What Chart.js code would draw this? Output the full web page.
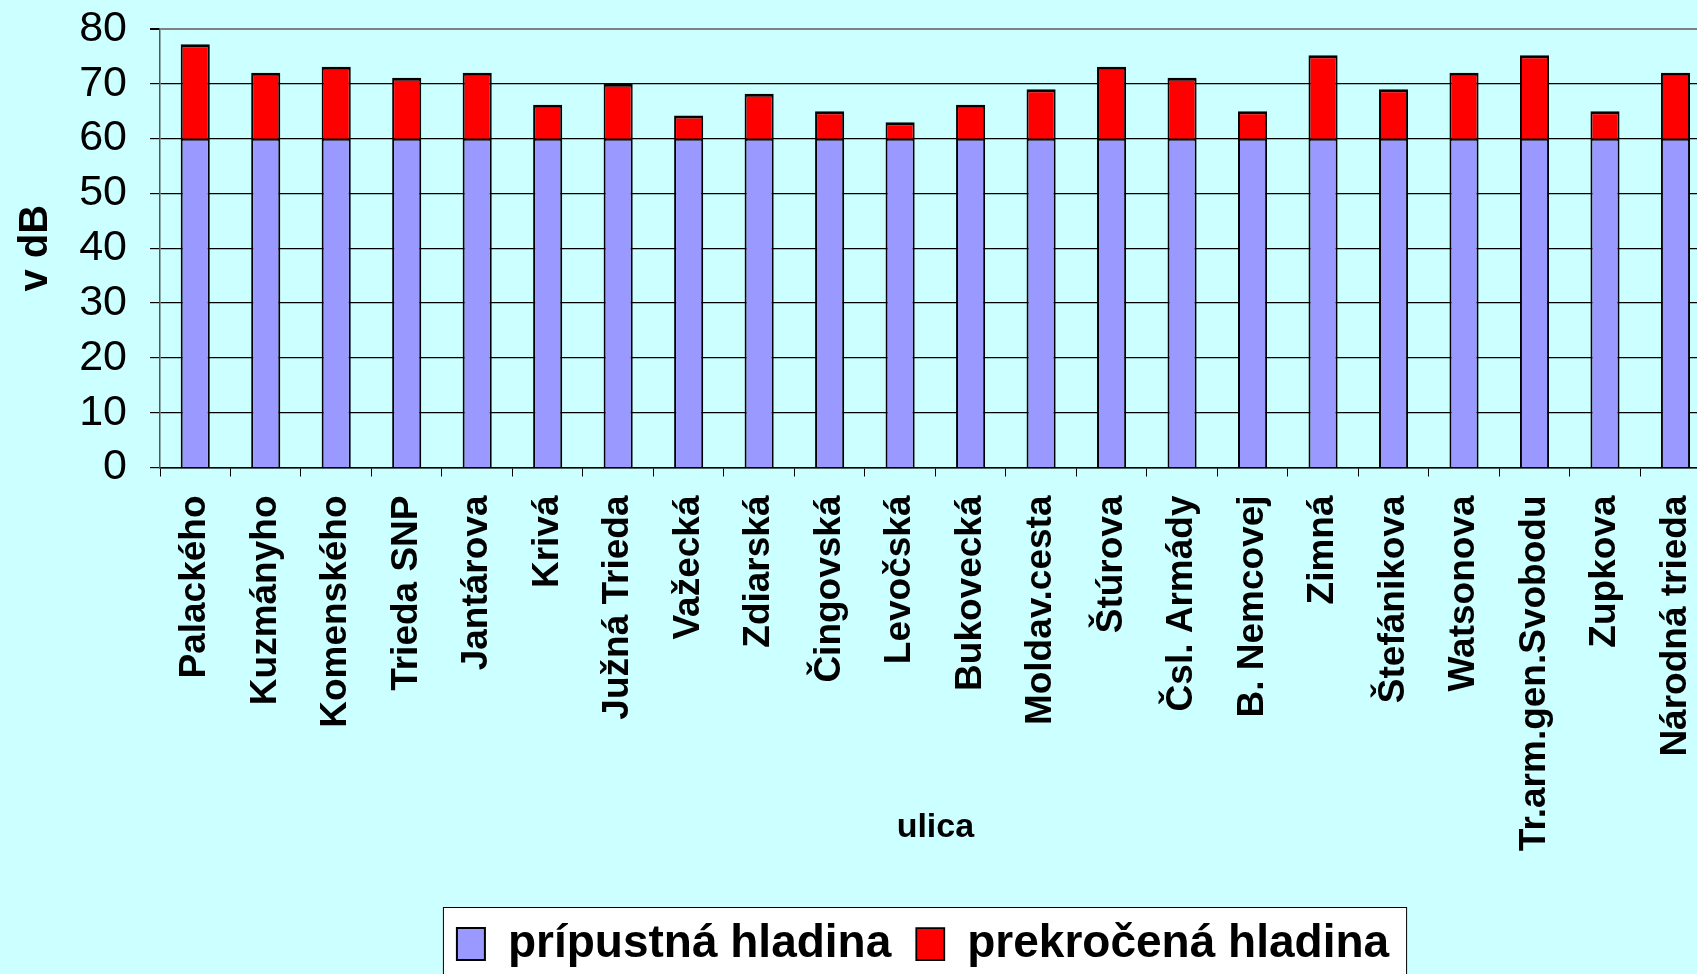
<!DOCTYPE html>
<html>
<head>
<meta charset="utf-8">
<script src="https://cdn.jsdelivr.net/npm/chart.js@4.4.0/dist/chart.umd.min.js"></script>
<style>
  html, body { margin: 0; padding: 0; background: #CCFFFF; overflow: hidden; }
  canvas { display: block; }
</style>
</head>
<body>
<canvas id="noise-chart" width="1739" height="977"></canvas>
<script>
const streets = [
  'Palackého', 'Kuzmányho', 'Komenského', 'Trieda SNP', 'Jantárova', 'Krivá',
  'Južná Trieda', 'Važecká', 'Zdiarská', 'Čingovská', 'Levočská', 'Bukovecká',
  'Moldav.cesta', 'Štúrova', 'Čsl. Armády', 'B. Nemcovej', 'Zimná', 'Štefánikova',
  'Watsonova', 'Tr.arm.gen.Svobodu', 'Zupkova', 'Národná trieda'
];
const allowedLevel = [60, 60, 60, 60, 60, 60, 60, 60, 60, 60, 60, 60, 60, 60, 60, 60, 60, 60, 60, 60, 60, 60];
const exceededLevel = [17.2, 12, 13.1, 11.1, 12, 6.2, 10, 4.2, 8.2, 5, 3, 6.2, 9, 13.1, 11.1, 5, 15.2, 9, 12, 15.2, 5, 12];
const yMin = 0;
const yMax = 80;
const yStep = 10;

Chart.defaults.font.family = "'Liberation Sans', Arial, sans-serif";
Chart.defaults.color = '#000';

// shift legend under the plot and draw the white framed box behind it
const legendFrame = {
  id: 'legendFrame',
  afterLayout(chart) {
    const lg = chart.legend;
    lg.left += 56;
    lg.right += 56;
  },
  beforeDraw(chart) {
    const lg = chart.legend;
    const boxes = lg.legendHitBoxes;
    if (!boxes || !boxes.length) return;
    const first = boxes[0];
    const last = boxes[boxes.length - 1];
    const ctx = chart.ctx;
    const x0 = first.left - 14;
    const x1 = last.left + last.width + 17;
    const y0 = lg.top + 11;
    ctx.save();
    ctx.fillStyle = '#fff';
    ctx.strokeStyle = '#000';
    ctx.lineWidth = 1;
    ctx.fillRect(x0, y0, x1 - x0, chart.height - y0 + 20);
    ctx.strokeRect(x0 + 0.5, y0 + 0.5, x1 - x0, chart.height - y0 + 20);
    ctx.restore();
  }
};

const ctx = document.getElementById('noise-chart');

new Chart(ctx, {
  type: 'bar',
  data: {
    labels: streets,
    datasets: [
      {
        label: 'prípustná hladina',
        data: allowedLevel,
        backgroundColor: '#9999FF',
        borderColor: '#000',
        borderWidth: 2
      },
      {
        label: 'prekročená hladina',
        data: exceededLevel,
        backgroundColor: '#FF0000',
        borderColor: '#000',
        borderWidth: { top: 3, left: 2, right: 2, bottom: 0 }
      }
    ]
  },
  options: {
    responsive: false,
    animation: false,
    events: [],
    datasets: {
      bar: { barPercentage: 0.413, categoryPercentage: 1 }
    },
    layout: {
      padding: { top: 29, right: 5, left: 0, bottom: 0 }
    },
    plugins: {
      tooltip: { enabled: false },
      legend: {
        position: 'bottom',
        labels: {
          color: '#000',
          font: { size: 46, weight: 'bold' },
          boxWidth: 28,
          boxHeight: 32,
          padding: 25
        }
      }
    },
    scales: {
      x: {
        stacked: true,
        afterFit: (scale) => { scale.height = 428.5; },
        grid: {
          drawOnChartArea: false,
          drawTicks: true,
          tickLength: 9,
          color: '#000',
          lineWidth: 1
        },
        border: { display: true, color: '#000', width: 1.5 },
        ticks: {
          color: '#000',
          autoSkip: false,
          minRotation: 90,
          maxRotation: 90,
          padding: 19,
          font: { size: 37, weight: 'bold' }
        },
        title: {
          display: true,
          text: 'ulica',
          color: '#000',
          font: { size: 34, weight: 'bold' },
          padding: { top: 0, bottom: 48 }
        }
      },
      y: {
        stacked: true,
        min: yMin,
        max: yMax,
        afterFit: (scale) => {
          scale.width = 160;
          scale.paddingTop = 29;
        },
        grid: {
          color: (c) => c.tick && c.tick.value === yMax ? '#808080' : '#000',
          lineWidth: (c) => c.tick && c.tick.value === yMax ? 2 : 1.2,
          tickColor: '#000',
          tickLength: 10
        },
        border: { display: true, color: '#555', width: 1.5 },
        ticks: {
          stepSize: yStep,
          autoSkip: false,
          color: '#000',
          padding: 23,
          font: { size: 43 }
        },
        title: {
          display: true,
          text: 'v dB',
          color: '#000',
          font: { size: 40, weight: 'bold' },
          padding: { top: 12, bottom: 0 }
        }
      }
    }
  },
  plugins: [legendFrame]
});
</script>
</body>
</html>
